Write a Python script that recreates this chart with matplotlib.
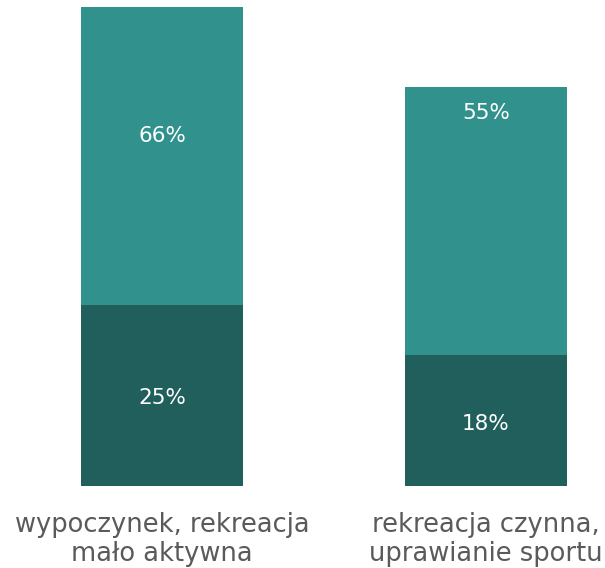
import matplotlib
matplotlib.use("Agg")
import matplotlib.pyplot as plt

categories = ["wypoczynek, rekreacja\nmało aktywna", "rekreacja czynna,\nuprawianie sportu"]
bottom_vals = [25, 18]
total_vals = [66, 55]
top_label_y = [48.2, 51.4]

dark = "#215f5c"
teal = "#31918d"

fig = plt.figure(figsize=(6.05, 5.68), dpi=100)
ax = fig.add_axes([0, 1 - 486 / 568, 1, 486 / 568])
x = [0, 1]
w = 0.5
top_seg = [t - b for t, b in zip(total_vals, bottom_vals)]
ax.bar(x, bottom_vals, width=w, color=dark)
ax.bar(x, top_seg, width=w, bottom=bottom_vals, color=teal)

fam = ["DejaVu Sans"]
for xi, b, t, ly in zip(x, bottom_vals, total_vals, top_label_y):
    ax.text(xi, b / 2 - 0.4, f"{b}%", ha="center", va="center", color="white",
            fontsize=15.5, family=fam)
    ax.text(xi, ly, f"{t}%", ha="center", va="center", color="white",
            fontsize=15.5, family=fam)

for xi, c in zip(x, categories):
    ax.annotate(c, (xi, 0), xytext=(0, -19), textcoords="offset points",
                ha="center", va="top", color="#5a5a5a", fontsize=18.5,
                family=fam, linespacing=1.12,
                annotation_clip=False)

ax.set_xlim(-0.5, (605 - 162) / 324)
ax.set_ylim(0, 66 * 486 / 479)
ax.axis("off")
fig.savefig("out.png", dpi=100)
